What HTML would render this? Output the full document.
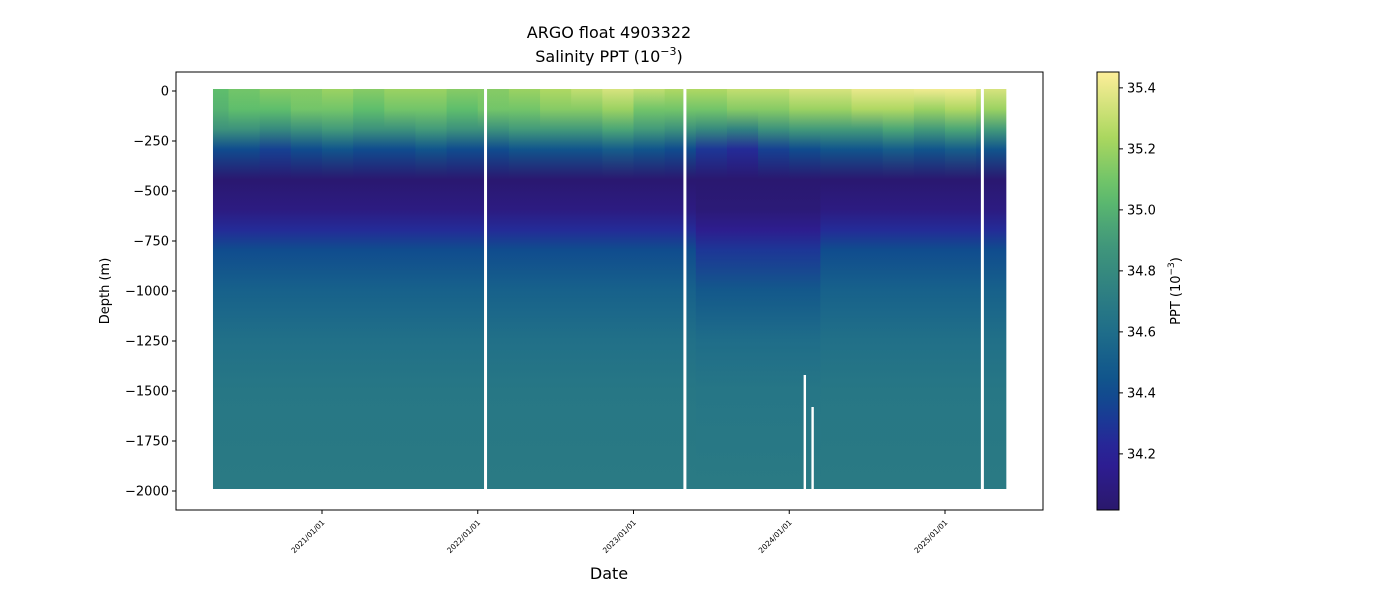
<!DOCTYPE html>
<html><head><meta charset="utf-8"><style>
body{margin:0;background:#fff;font-family:"Liberation Sans","DejaVu Sans",sans-serif}
svg text{font-family:"DejaVu Sans","Liberation Sans",sans-serif;fill:#000}
</style></head><body>
<svg id="chart" width="1400" height="600" xmlns="http://www.w3.org/2000/svg">
<defs id="defs"></defs>
<g id="plot"></g>
<g id="axes"></g>
</svg>
<script>
const dates=[2020.3,2020.5,2020.7,2020.9,2021.1,2021.3,2021.5,2021.7,2021.9,2022.1,2022.3,2022.5,2022.7,2022.9,2023.1,2023.3,2023.5,2023.7,2023.9,2024.1,2024.3,2024.5,2024.7,2024.9,2025.1,2025.3];
const depthLevels=[0,-100,-200,-300,-450,-600,-700,-800,-1000,-1250,-1500,-2000];
const s0=[35.05,35.1,35.15,35.15,35.2,35.15,35.2,35.2,35.15,35.15,35.2,35.25,35.3,35.35,35.3,35.25,35.25,35.3,35.3,35.35,35.35,35.4,35.4,35.42,35.42,35.35];
const s100=[35.0,35.05,35.05,35.1,35.1,35.05,35.1,35.1,35.05,35.1,35.1,35.15,35.15,35.2,35.1,35.1,35.1,35.15,35.15,35.2,35.2,35.25,35.25,35.2,35.25,35.2];
const s200=[34.85,34.85,34.8,34.85,34.9,34.85,34.85,34.9,34.85,34.85,34.9,34.9,34.9,34.95,34.9,34.85,34.8,34.75,34.85,34.9,34.9,34.9,34.95,34.9,34.95,34.9];
const s300=[34.4,34.4,34.35,34.4,34.45,34.4,34.4,34.45,34.4,34.4,34.45,34.45,34.45,34.5,34.45,34.4,34.3,34.25,34.35,34.4,34.45,34.45,34.5,34.45,34.5,34.45];
const deep=[34.03,34.1,34.25,34.4,34.52,34.62,34.67,34.69];
const deepMid=[34.03,34.06,34.15,34.3,34.47,34.6,34.66,34.69];
const yTicks=[0,-250,-500,-750,-1000,-1250,-1500,-1750,-2000];
const xTicks=[2021,2022,2023,2024,2025];
const cTicks=[34.2,34.4,34.6,34.8,35.0,35.2,35.4];
const gaps=[2022.05,2023.33,2025.24];
const partialGaps=[[2024.1,-1420],[2024.15,-1580]];

const NS="http://www.w3.org/2000/svg";
const X0=176,X1=1043,Y0=72,Y1=510;
const xs=d=>322+(d-2021)*155.75;
const ys=m=>91-m*0.2;
const cmin=34.016,cmax=35.452;
const cy=v=>510-(v-cmin)/(cmax-cmin)*438;
const stops=[[0,[42,24,108]],[0.12,[46,30,152]],[0.2,[28,55,150]],[0.28,[14,80,140]],[0.4,[30,108,138]],[0.52,[50,132,128]],[0.62,[68,155,122]],[0.72,[95,190,108]],[0.85,[170,215,95]],[1,[253,238,153]]];
function col(v){let t=Math.max(0,Math.min(1,(v-cmin)/(cmax-cmin)));for(let i=1;i<stops.length;i++){if(t<=stops[i][0]){const a=stops[i-1],b=stops[i];const f=(t-a[0])/(b[0]-a[0]);const c=a[1].map((x,k)=>Math.round(x+(b[1][k]-x)*f));return `rgb(${c.join(',')})`;}}return 'rgb(253,238,153)';}
function mk(tag,attrs,parent,name,text){const e=document.createElementNS(NS,tag);for(const k in attrs)e.setAttribute(k,attrs[k]);


if(text!==undefined)e.textContent=text;parent.appendChild(e);return e;}
const defs=document.getElementById('defs'),plot=document.getElementById('plot'),axes=document.getElementById('axes');
const yTop=ys(0),yBot=ys(-1990);
dates.forEach((d,i)=>{
  const mid=(d>=2023.4&&d<=2024.2);
  const vals=[s0[i],s100[i],s200[i],s300[i]].concat(mid?deepMid:deep);
  const g=mk('linearGradient',{id:'g'+i,x1:0,y1:0,x2:0,y2:1},defs,'profile-gradient');
  depthLevels.forEach((dp,k)=>{const off=Math.min(1,Math.max(0,(ys(dp)-yTop)/(yBot-yTop)));mk('stop',{offset:off,'stop-color':col(vals[k])},g,'gradient-stop');});
  const xa=i==0?xs(2020.3):xs((dates[i-1]+d)/2), xb=i==dates.length-1?xs(2025.39):xs((d+dates[i+1])/2);
  mk('rect',{x:xa,y:yTop-2,width:xb-xa+0.6,height:yBot-yTop+2,fill:`url(#g${i})`},plot,'profile-column');
});
gaps.forEach(g=>mk('rect',{x:xs(g)-1.5,y:yTop-3,width:3,height:yBot-yTop+6,fill:'#fff'},plot,'data-gap'));
partialGaps.forEach(p=>mk('rect',{x:xs(p[0])-1.2,y:ys(p[1]),width:2.4,height:yBot-ys(p[1])+2,fill:'#fff'},plot,'data-gap-partial'));
mk('rect',{x:X0,y:Y0,width:X1-X0,height:Y1-Y0,fill:'none',stroke:'#000','stroke-width':1},axes,'plot-frame');
yTicks.forEach(t=>{const y=ys(t);mk('line',{x1:X0-4,x2:X0,y1:y,y2:y,stroke:'#000'},axes,'y-tick');
mk('text',{x:X0-7,y:y+4.5,'text-anchor':'end','font-size':13},axes,'y-tick-label',String(t).replace('-','\u2212'));});
xTicks.forEach(t=>{const x=xs(t);mk('line',{x1:x,x2:x,y1:Y1,y2:Y1+4,stroke:'#000'},axes,'x-tick');
mk('text',{x:x+3,y:Y1+13,'text-anchor':'end','font-size':7.5,transform:`rotate(-45 ${x+3} ${Y1+13})`},axes,'x-tick-label',t+'/01/01');});
mk('text',{x:609,y:579,'text-anchor':'middle','font-size':16},axes,'x-axis-title','Date');
mk('text',{x:0,y:0,'text-anchor':'middle','font-size':13,transform:'translate(109 291) rotate(-90)'},axes,'y-axis-title','Depth (m)');
mk('text',{x:609,y:38,'text-anchor':'middle','font-size':16},axes,'chart-title','ARGO float 4903322');
const t2=mk('text',{x:609,y:62,'text-anchor':'middle','font-size':16},axes,'chart-subtitle');
t2.innerHTML='Salinity PPT (10<tspan dy="-7" font-size="11">\u22123</tspan><tspan dy="7">)</tspan>';
const cg=mk('linearGradient',{id:'cbar',x1:0,y1:1,x2:0,y2:0},defs,'colorbar-gradient');
for(let k=0;k<=20;k++){mk('stop',{offset:k/20,'stop-color':col(cmin+(cmax-cmin)*k/20)},cg,'colorbar-stop');}
mk('rect',{x:1097,y:72,width:22,height:438,fill:'url(#cbar)',stroke:'#000','stroke-width':1},axes,'colorbar');
cTicks.forEach(t=>{const y=cy(t);mk('line',{x1:1119,x2:1123,y1:y,y2:y,stroke:'#000'},axes,'colorbar-tick');
mk('text',{x:1127,y:y+4.5,'font-size':13},axes,'colorbar-tick-label',t.toFixed(1));});
const cl=mk('text',{x:0,y:0,'text-anchor':'middle','font-size':13,transform:'translate(1180 291) rotate(-90)'},axes,'colorbar-label');
cl.innerHTML='PPT (10<tspan dy="-6" font-size="9">\u22123</tspan><tspan dy="6">)</tspan>';
</script>
</body></html>
